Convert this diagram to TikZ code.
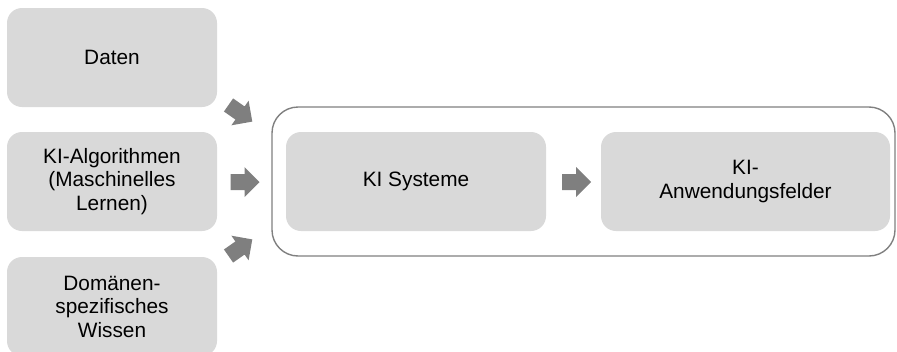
\documentclass[tikz,border=0pt]{standalone}
\usepackage{fontspec}
\setmainfont{Liberation Sans}
\definecolor{boxfill}{HTML}{D9D9D9}
\definecolor{arrowgray}{HTML}{7F7F7F}
\definecolor{framegray}{HTML}{808080}
\begin{document}
\begin{tikzpicture}[x=1pt,y=-1pt,
  card/.style={rectangle, rounded corners=15pt, fill=boxfill, inner sep=0pt,
    align=center, font=\fontsize{20.8}{23.5}\selectfont, text=black},
  frame/.style={draw=framegray, line width=1.4pt, rounded corners=26pt},
  blockarrow/.pic={\fill[arrowgray] (-14,-8) -- (0,-8) -- (0,-15) -- (15,0)
      -- (0,15) -- (0,8) -- (-14,8) -- cycle;}
]
\useasboundingbox (0,0) rectangle (897,351);

% input boxes on the left
\node[card, minimum width=210pt, minimum height=99pt] (daten) at (112,57.5) {Daten};
\node[card, minimum width=210pt, minimum height=99pt] (algo) at (112,181.5)
  {KI-Algorithmen\\(Maschinelles\\Lernen)};
\node[card, minimum width=210pt, minimum height=99pt] (wissen) at (112,306.5)
  {Domänen-\\spezifisches\\Wissen};

% enclosing frame
\draw[frame] (272,107) rectangle (895,256);
\coordinate (frameleft) at (272,181.5);

% system boxes
\node[card, minimum width=260pt, minimum height=99pt] (system) at (416,181.5) {KI Systeme};
\node[card, minimum width=289pt, minimum height=99pt] (felder) at (745.5,181.5)
  {KI-\\Anwendungsfelder};

% block arrows
\pic[rotate=-35] (a1) at (240,113) {blockarrow};
\pic (a2) at (244.5,182) {blockarrow};
\pic[rotate=35] (a3) at (240,248) {blockarrow};
\pic (a4) at (576,182) {blockarrow};
\end{tikzpicture}
\end{document}
